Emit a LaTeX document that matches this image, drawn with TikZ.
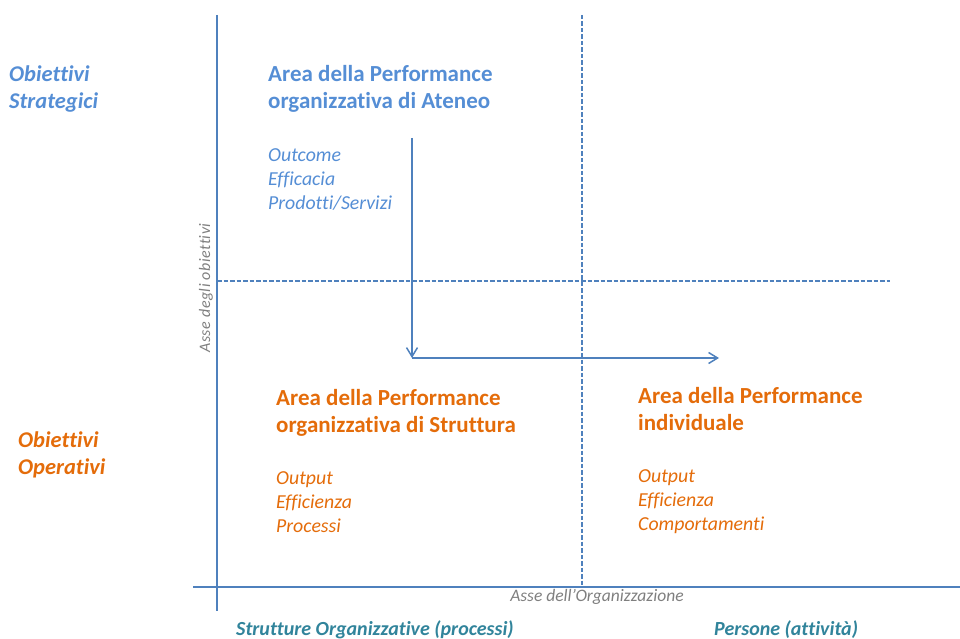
\documentclass[tikz,border=0pt]{standalone}
\usepackage{fontspec}
\setmainfont{Carlito}[Ligatures=NoCommon]
\usetikzlibrary{arrows.meta}
\definecolor{lineblue}{HTML}{4F81BD}
\definecolor{txtblue}{HTML}{558ED5}
\definecolor{txtorange}{HTML}{E46C0A}
\definecolor{txtteal}{HTML}{31849B}
\definecolor{txtgray}{HTML}{7F7F7F}
\begin{document}
\begin{tikzpicture}[x=1pt,y=-1pt,
  axis/.style={draw=lineblue, line width=1.2pt},
  guide/.style={draw=lineblue, line width=1.3pt, dash pattern=on 4.5pt off 2pt},
  flow/.style={draw=lineblue, line width=1.5pt, -{Straight Barb[length=9pt,width=11pt]}},
  lbl/.style={inner sep=0pt, anchor=base west, align=left},
  head/.style={lbl, font=\fontsize{23}{27}\selectfont\bfseries},
  items/.style={lbl, font=\fontsize{19.8}{24}\selectfont\itshape},
  side/.style={lbl, font=\fontsize{22.5}{26.5}\selectfont\bfseries\itshape},
  bottom/.style={lbl, font=\fontsize{20}{24}\selectfont\bfseries\itshape, text=txtteal},
  axislbl/.style={inner sep=0pt, text=txtgray}]
\useasboundingbox (0,0) rectangle (960,639);
% axes
\coordinate (vtop) at (217,15);
\coordinate (vbot) at (217,611);
\coordinate (hleft) at (193,587);
\coordinate (hright) at (960,587);
\draw[axis] (vtop) -- (vbot);
\draw[axis] (hleft) -- (hright);
% guides
\coordinate (dvtop) at (582,15);
\coordinate (dvbot) at (582,587);
\coordinate (dhleft) at (217,281);
\coordinate (dhright) at (890,281);
\draw[guide] (dvtop) -- (dvbot);
\draw[guide] (dhleft) -- (dhright);
% flow arrows
\coordinate (fstart) at (412,138);
\coordinate (fcorner) at (412,358);
\coordinate (fend) at (719,358);
\draw[flow] (fstart) -- (fcorner);
\draw[flow] (fcorner) -- (fend);
% side labels (base anchor = last line baseline)
\node[side, text=txtblue] (strat) at (9,108.5) {Obiettivi\\Strategici};
\node[side, text=txtorange] (oper) at (18,474) {Obiettivi\\Operativi};
% quadrant texts
\node[head, text=txtblue] (ateneo) at (268,109) {Area della Performance\\organizzativa di Ateneo};
\node[items, text=txtblue] (ateneolist) at (268,209) {Outcome\\Efficacia\\Prodotti/Servizi};
\node[head, text=txtorange] (struttura) at (276,432) {Area della Performance\\organizzativa di Struttura};
\node[items, text=txtorange] (strutturalist) at (276,532) {Output\\Efficienza\\Processi};
\node[head, text=txtorange] (individuale) at (638,430) {Area della Performance\\individuale};
\node[items, text=txtorange] (individualelist) at (638,530) {Output\\Efficienza\\Comportamenti};
% axis labels
\node[axislbl, font=\fontsize{16}{19}\selectfont\itshape\addfontfeature{LetterSpace=3}, rotate=90] (asseobj) at (206,288) {Asse degli obiettivi};
\node[axislbl, font=\fontsize{17.5}{20}\selectfont\itshape, anchor=base] (asseorg) at (597,601) {Asse dell’Organizzazione};
% bottom labels
\node[bottom] (strutture) at (236,635) {Strutture Organizzative (processi)};
\node[bottom] (persone) at (714,635) {Persone (attività)};
\end{tikzpicture}
\end{document}
